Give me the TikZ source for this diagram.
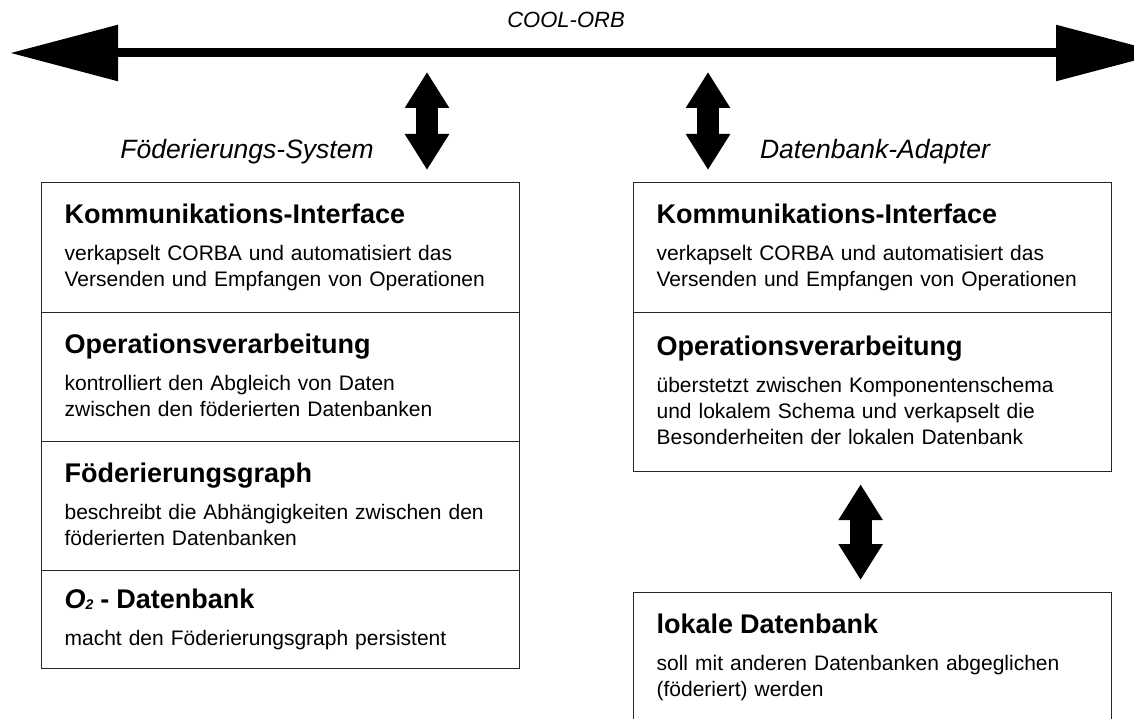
\documentclass[tikz,border=0pt]{standalone}
\usepackage{fontspec}
\setmainfont{Liberation Sans}
\usepackage{tikz}
\usetikzlibrary{arrows.meta}

% title line and closing strut of a section
\newcommand{\titel}[1]{\rule{0pt}{20pt}{\fontsize{27}{27}\selectfont\bfseries #1}\\[11pt]}
\newcommand{\schluss}{\rule[-5pt]{0pt}{5pt}}

\begin{document}
\begin{tikzpicture}[x=1pt,y=-1pt,
  section/.style={draw=black!85, line width=1.2pt, anchor=north west, minimum width=478pt,
    text width=432pt, inner xsep=23pt, inner ysep=0pt, align=left, font=\fontsize{21}{26}\selectfont},
  label/.style={font=\fontsize{26.5}{26.5}\selectfont\itshape},
  bus/.style={line width=9pt, {Triangle[length=108pt,width=54pt]}-{Triangle[length=108pt,width=54pt]}},
  link/.style={line width=22pt, {Triangle[length=36pt,width=42pt]}-{Triangle[length=36pt,width=42pt]}}]

\useasboundingbox (0,0) rectangle (1134,719);
\clip (0,0) rectangle (1134,719);

% ORB
\coordinate (OrbW) at (10,53);
\coordinate (OrbE) at (1164,53);
\draw[bus] (OrbW) -- (OrbE);
\node[font=\fontsize{22}{22}\selectfont\itshape] (Orb) at (566,20) {COOL-ORB};

% Foederierungs-System
\node[label] (FS) at (247,152) {Föderierungs-System};
\coordinate (FSoben) at (427,72);
\coordinate (FSunten) at (427,170);
\draw[link] (FSoben) -- (FSunten);

\node[section, minimum height=130pt] (KomFS) at (41,182) {\titel{Kommunikations-Interface}
  verkapselt CORBA und automatisiert das\\ Versenden und Empfangen von Operationen\schluss};
\node[section, minimum height=129pt] (OpFS) at (41,312) {\titel{Operationsverarbeitung}
  kontrolliert den Abgleich von Daten\\ zwischen den föderierten Datenbanken\schluss};
\node[section, minimum height=129pt] (GraphFS) at (41,441) {\titel{Föderierungsgraph}
  beschreibt die Abhängigkeiten zwischen den\\ föderierten Datenbanken\schluss};
\node[section, minimum height=98pt] (DbFS) at (41,570) {\titel{\textit{O}\raisebox{-1pt}{\fontsize{14}{14}\selectfont\textit{2}} - Datenbank}
  macht den Föderierungsgraph persistent\schluss};

% Datenbank-Adapter
\node[label] (DA) at (875,152) {Datenbank-Adapter};
\coordinate (DAoben) at (708,72);
\coordinate (DAunten) at (708,170);
\draw[link] (DAoben) -- (DAunten);

\node[section, minimum height=130pt] (KomDA) at (633,182) {\titel{Kommunikations-Interface}
  verkapselt CORBA und automatisiert das\\ Versenden und Empfangen von Operationen\schluss};
\node[section, minimum height=159pt] (OpDA) at (633,312) {\titel{Operationsverarbeitung}
  überstetzt zwischen Komponentenschema\\ und lokalem Schema und verkapselt die\\
  Besonderheiten der lokalen Datenbank\schluss};

\node[section, minimum height=130pt] (Lokal) at (633,592) {\titel{lokale Datenbank}
  soll mit anderen Datenbanken abgeglichen\\ (föderiert) werden\schluss};

\draw[link, shorten <=12pt, shorten >=12pt] ([xshift=-12pt]OpDA.south) -- ([xshift=-12pt]Lokal.north);

\end{tikzpicture}
\end{document}
